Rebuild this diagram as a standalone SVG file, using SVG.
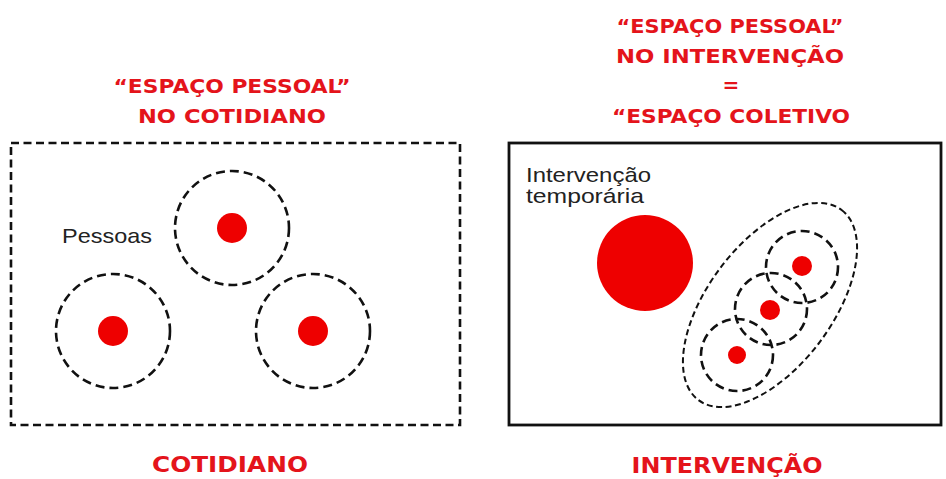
<svg xmlns="http://www.w3.org/2000/svg" width="946" height="479" viewBox="0 0 946 479">
<style>
.title{font-family:"DejaVu Sans",sans-serif;font-weight:bold;fill:#e4141b;text-anchor:middle}
.t{font-size:20px}
.big{font-size:22px}
.lbl{font-family:"Liberation Sans",Arial,sans-serif;font-size:21px;fill:#222}
.dot{fill:#ee0000}
.ring{fill:none;stroke:#111;stroke-width:2.6;stroke-dasharray:9 5}
.ell{fill:none;stroke:#111;stroke-width:2;stroke-dasharray:6 3.5}
</style>
<rect width="946" height="479" fill="#fff"/>
<g id="cotidiano">
<text class="title t" x="232" y="93" textLength="237" lengthAdjust="spacingAndGlyphs">“ESPAÇO PESSOAL”</text>
<text class="title t" x="232" y="123" textLength="188" lengthAdjust="spacingAndGlyphs">NO COTIDIANO</text>
<rect x="11" y="143" width="449" height="282" fill="none" stroke="#111" stroke-width="2.6" stroke-dasharray="8 4.5"/>
<text class="lbl" x="62" y="243" textLength="90" lengthAdjust="spacingAndGlyphs">Pessoas</text>
<circle class="ring" cx="232" cy="228" r="57"/>
<circle class="dot" cx="232" cy="228" r="15"/>
<circle class="ring" cx="113" cy="331" r="57"/>
<circle class="dot" cx="113" cy="331" r="15"/>
<circle class="ring" cx="313" cy="331" r="57"/>
<circle class="dot" cx="313" cy="331" r="15"/>
<text class="title big" x="230" y="472" textLength="156" lengthAdjust="spacingAndGlyphs">COTIDIANO</text>
</g>
<g id="intervencao">
<text class="title t" x="730" y="33" textLength="227" lengthAdjust="spacingAndGlyphs">“ESPAÇO PESSOAL”</text>
<text class="title t" x="730" y="63" textLength="228" lengthAdjust="spacingAndGlyphs">NO INTERVENÇÃO</text>
<text class="title t" x="731" y="92">=</text>
<text class="title t" x="731" y="123" textLength="238" lengthAdjust="spacingAndGlyphs">“ESPAÇO COLETIVO</text>
<rect x="509" y="143" width="432" height="282" fill="none" stroke="#111" stroke-width="2.8"/>
<text class="lbl" x="526" y="182" textLength="125" lengthAdjust="spacingAndGlyphs">Intervenção</text>
<text class="lbl" x="526" y="203" textLength="118" lengthAdjust="spacingAndGlyphs">temporária</text>
<circle class="dot" cx="645" cy="263" r="48"/>
<ellipse class="ell" cx="770" cy="305" rx="119" ry="62" transform="rotate(-53 770 305)"/>
<circle class="ring" cx="802" cy="267" r="36"/>
<circle class="dot" cx="802" cy="266" r="10"/>
<circle class="ring" cx="771" cy="309" r="36"/>
<circle class="dot" cx="770" cy="310" r="10"/>
<circle class="ring" cx="737" cy="355" r="36"/>
<circle class="dot" cx="737" cy="355" r="9"/>
<text class="title big" x="727" y="473" textLength="191" lengthAdjust="spacingAndGlyphs">INTERVENÇÃO</text>
</g>
</svg>
